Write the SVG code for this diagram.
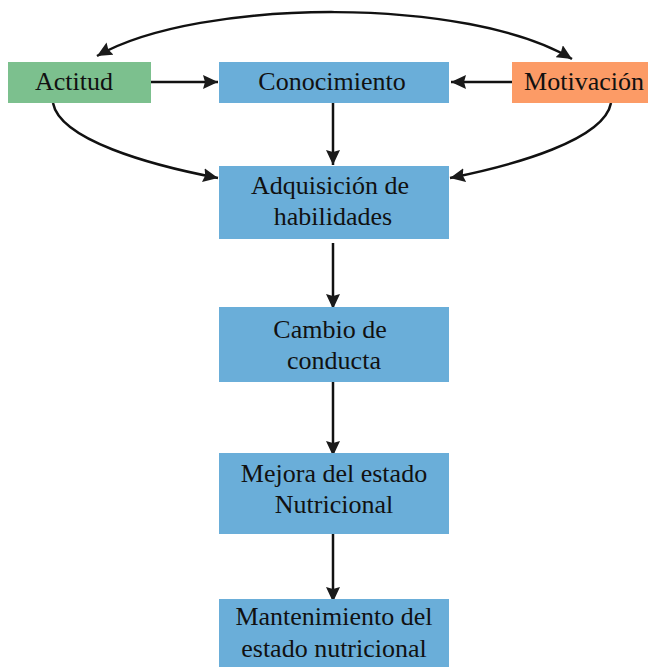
<svg xmlns="http://www.w3.org/2000/svg" width="648" height="667" viewBox="0 0 648 667">
<defs>
<style>
.box{stroke:none}
.blue{fill:#6aaed9}
.green{fill:#7cc08e}
.orange{fill:#fc9b66}
.lbl{font-family:"Liberation Serif","Times New Roman",serif;font-size:26px;fill:#111;text-anchor:middle}
.edge{fill:none;stroke:#111;stroke-width:2.5;marker-end:url(#ah)}
.both{marker-start:url(#ah)}
</style>
<marker id="ah" markerWidth="16" markerHeight="14" refX="15" refY="7" orient="auto-start-reverse" markerUnits="userSpaceOnUse">
<path d="M0,0 L15,7 L0,14 L2,7 Z" fill="#1a1a1a"/>
</marker>
</defs>
<rect width="648" height="667" fill="#fff"/>
<g id="connectors">
<path class="edge both" d="M97,56 C200,-3 470,-3 572,59"/>
<path class="edge" d="M151,82 L218,82"/>
<path class="edge" d="M512,82 L451,82"/>
<path class="edge" d="M333,103 L333,165"/>
<path class="edge" d="M53,103 C60,140 150,165 218,178"/>
<path class="edge" d="M611,103 C604,140 515,165 450,178"/>
<path class="edge" d="M333,243 L333,309"/>
<path class="edge" d="M333,382 L333,456"/>
<path class="edge" d="M333,534 L333,602"/>
</g>
<g id="actitud">
<rect class="box green" x="8" y="62" width="143" height="41"/>
<text class="lbl" x="74" y="90">Actitud</text>
</g>
<g id="conocimiento">
<rect class="box blue" x="219" y="62" width="230" height="41"/>
<text class="lbl" x="332" y="90">Conocimiento</text>
</g>
<g id="motivacion">
<rect class="box orange" x="512" y="62" width="136" height="41"/>
<text class="lbl" x="584" y="90">Motivación</text>
</g>
<g id="adquisicion">
<rect class="box blue" x="219" y="166" width="230" height="73"/>
<text class="lbl" x="330" y="194">Adquisición de</text>
<text class="lbl" x="333" y="225">habilidades</text>
</g>
<g id="cambio">
<rect class="box blue" x="219" y="307" width="230" height="75"/>
<text class="lbl" x="330" y="338">Cambio de</text>
<text class="lbl" x="334" y="369">conducta</text>
</g>
<g id="mejora">
<rect class="box blue" x="219" y="453" width="230" height="81"/>
<text class="lbl" x="334" y="482">Mejora del estado</text>
<text class="lbl" x="334" y="513">Nutricional</text>
</g>
<g id="mantenimiento">
<rect class="box blue" x="219" y="599" width="230" height="68"/>
<text class="lbl" x="334" y="625">Mantenimiento del</text>
<text class="lbl" x="334" y="657">estado nutricional</text>
</g>
</svg>
